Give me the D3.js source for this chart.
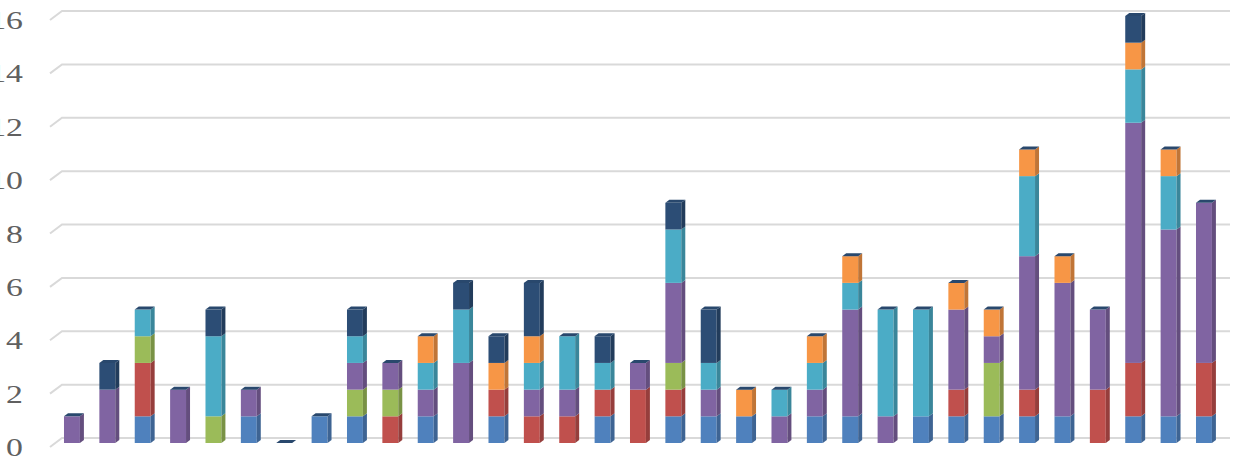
<!DOCTYPE html>
<html>
<head>
<meta charset="utf-8">
<script src="https://cdn.jsdelivr.net/npm/d3@7"></script>
<style>
    html, body { margin: 0; padding: 0; background: #fff; }
    svg { display: block; }
    .tick-label { font-family: "Liberation Serif", "Times New Roman", serif; fill: #606060; }
</style>
</head>
<body>
<div id="chart"></div>
<script>
"use strict";

// one entry per bar, no labels shown on the x axis
const categories = d3.range(1, 34).map(String);
const y_ticks = [0, 2, 4, 6, 8, 10, 12, 14, 16];

// stacked series, bottom to top
const blue   = [0,0,1,0,0,1,0,1,1,0,1,0,1,0,0,1,0,1,1,1,0,1,1,0,1,1,1,1,1,0,1,1,1];
const red    = [0,0,2,0,0,0,0,0,0,1,0,0,1,1,1,1,2,1,0,0,0,0,0,0,0,1,0,1,0,2,2,0,2];
const green  = [0,0,1,0,1,0,0,0,1,1,0,0,0,0,0,0,0,1,0,0,0,0,0,0,0,0,2,0,0,0,0,0,0];
const purple = [1,2,0,2,0,1,0,0,1,1,1,3,0,1,1,0,1,3,1,0,1,1,4,1,0,3,1,5,5,3,9,7,6];
const cyan   = [0,0,1,0,3,0,0,0,1,0,1,2,0,1,2,1,0,2,1,0,1,1,1,4,4,0,0,3,0,0,2,2,0];
const orange = [0,0,0,0,0,0,0,0,0,0,1,0,1,1,0,0,0,0,0,1,0,1,1,0,0,1,1,1,1,0,1,1,0];
const navy   = [0,1,0,0,1,0,0,0,1,0,0,1,1,2,0,1,0,1,2,0,0,0,0,0,0,0,0,0,0,0,1,0,0];

const series = [
    {key: 'blue', values: blue, color: '#4f81bd'},
    {key: 'red', values: red, color: '#c0504d'},
    {key: 'green', values: green, color: '#9bbb59'},
    {key: 'purple', values: purple, color: '#8064a2'},
    {key: 'cyan', values: cyan, color: '#4bacc6'},
    {key: 'orange', values: orange, color: '#f79646'},
    {key: 'navy', values: navy, color: '#2c4d75'}
];

const width = 1236, height = 460;
const depth_x = 4, depth_y = 3;      // bar depth
const wall_x = 12, wall_y = 9;       // floor depth of the gridlines

const table = categories.map((c, i) => {
    const row = {category: c};
    series.forEach(s => row[s.key] = s.values[i]);
    return row;
});
const stacked = d3.stack().keys(series.map(s => s.key))(table);
const color = d3.scaleOrdinal().domain(series.map(s => s.key)).range(series.map(s => s.color));

const xScale = d3.scaleBand().domain(categories).range([46.3, 1229.6])
    .paddingInner(0.55).paddingOuter(0.5);
const yScale = d3.scaleLinear().domain([0, 16]).range([447, 20]);

const svg = d3.select('#chart').append('svg')
    .attr('width', width)
    .attr('height', height);

// gridlines with the short floor diagonal on the left
const grid = svg.append('g').attr('class', 'grid');
grid.selectAll('path')
    .data(y_ticks)
    .enter().append('path')
    .attr('d', d => {
        const y = yScale(d);
        return `M50,${y}L${50 + wall_x},${y - wall_y}L1230,${y - wall_y}`;
    })
    .style('fill', 'none')
    .style('stroke', '#d9d9d9')
    .style('stroke-width', 2);

// tick labels (the left edge of the picture crops the two-digit ones)
svg.append('g').selectAll('text')
    .data(y_ticks)
    .enter().append('text')
    .attr('class', 'tick-label')
    .attr('transform', d => `translate(23,${yScale(d)}) scale(1.3,1)`)
    .attr('text-anchor', 'end')
    .attr('dy', '0.35em')
    .style('font-size', '26px')
    .text(d => d);

// bars: front and side faces for each stacked segment
const front_y = v => yScale(v) - 4;
const layers = svg.append('g').attr('class', 'bars');

stacked.forEach(layer => {
    const c = color(layer.key);
    const g = layers.append('g').attr('class', 'layer-' + layer.key);
    const segs = layer.map((d, i) => ({x: xScale(categories[i]), y0: d[0], y1: d[1]}))
        .filter(d => d.y1 > d.y0);

    g.selectAll('.front').data(segs).enter().append('rect')
        .attr('class', 'front')
        .attr('x', d => d.x)
        .attr('y', d => front_y(d.y1))
        .attr('width', xScale.bandwidth())
        .attr('height', d => front_y(d.y0) - front_y(d.y1))
        .style('fill', c);

    g.selectAll('.side').data(segs).enter().append('path')
        .attr('class', 'side')
        .attr('d', d => {
            const x = d.x + xScale.bandwidth();
            const yb = front_y(d.y0), yt = front_y(d.y1);
            return `M${x},${yb}L${x + depth_x},${yb - depth_y}L${x + depth_x},${yt - depth_y}L${x},${yt}Z`;
        })
        .style('fill', d3.color(c).darker(0.7));
});

// the last series sits on top of every stack, so every cap is its top face
const top_layer = stacked[stacked.length - 1];
layers.append('g').attr('class', 'caps').selectAll('path')
    .data(top_layer.map((d, i) => ({x: xScale(categories[i]), total: d[1]})))
    .enter().append('path')
    .attr('d', d => {
        const y = front_y(d.total), x = d.x, w = xScale.bandwidth();
        return `M${x},${y}L${x + w},${y}L${x + w + depth_x},${y - depth_y}L${x + depth_x},${y - depth_y}Z`;
    })
    .style('fill', d3.color(color('navy')).darker(0.2));
</script>
</body>
</html>
